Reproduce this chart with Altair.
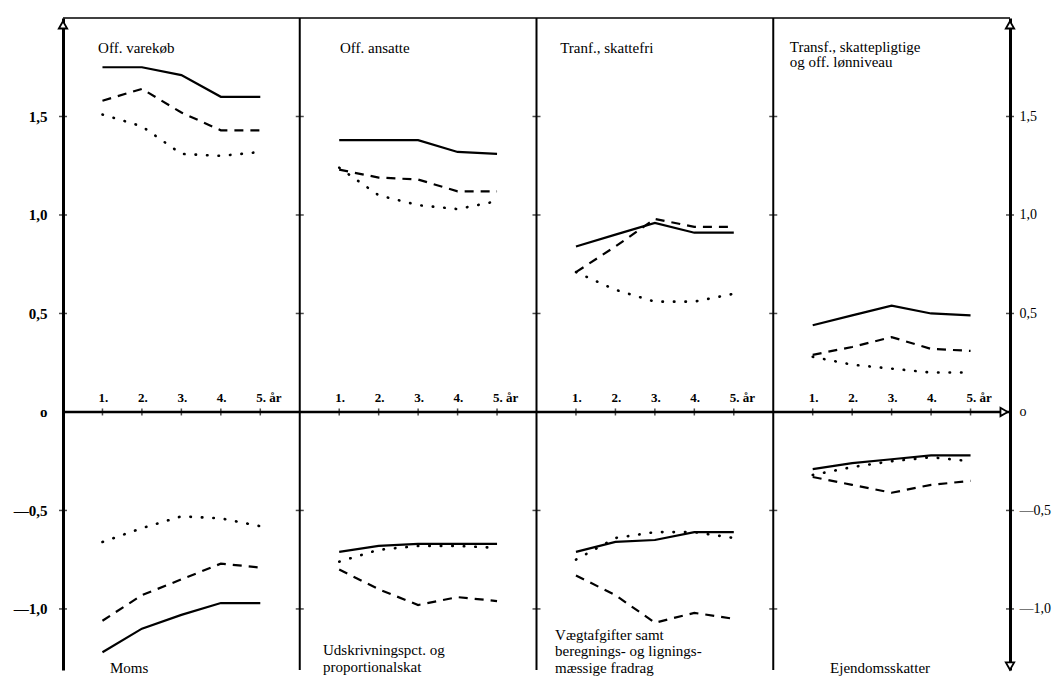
import altair as alt
import pandas as pd

FONT = "Liberation Serif"

years = [1, 2, 3, 4, 5]

# Top row (positive effects)
varekob_solid = [1.75, 1.75, 1.71, 1.60, 1.60]
varekob_dashed = [1.58, 1.64, 1.52, 1.43, 1.43]
varekob_dotted = [1.51, 1.45, 1.31, 1.30, 1.32]
ansatte_solid = [1.38, 1.38, 1.38, 1.32, 1.31]
ansatte_dashed = [1.23, 1.19, 1.18, 1.12, 1.12]
ansatte_dotted = [1.24, 1.10, 1.05, 1.03, 1.07]
skattefri_solid = [0.84, 0.90, 0.96, 0.91, 0.91]
skattefri_dashed = [0.71, 0.84, 0.98, 0.94, 0.94]
skattefri_dotted = [0.71, 0.62, 0.56, 0.56, 0.60]
skattepl_solid = [0.44, 0.49, 0.54, 0.50, 0.49]
skattepl_dashed = [0.29, 0.33, 0.38, 0.32, 0.31]
skattepl_dotted = [0.28, 0.24, 0.22, 0.20, 0.20]

# Bottom row (negative effects)
moms_solid = [-1.22, -1.10, -1.03, -0.97, -0.97]
moms_dashed = [-1.06, -0.93, -0.85, -0.77, -0.79]
moms_dotted = [-0.66, -0.59, -0.53, -0.54, -0.58]
udskr_solid = [-0.71, -0.68, -0.67, -0.67, -0.67]
udskr_dashed = [-0.80, -0.90, -0.98, -0.94, -0.96]
udskr_dotted = [-0.76, -0.70, -0.68, -0.68, -0.69]
vaegt_solid = [-0.71, -0.66, -0.65, -0.61, -0.61]
vaegt_dashed = [-0.83, -0.93, -1.07, -1.02, -1.05]
vaegt_dotted = [-0.75, -0.64, -0.61, -0.61, -0.64]
ejendom_solid = [-0.29, -0.26, -0.24, -0.22, -0.22]
ejendom_dashed = [-0.33, -0.37, -0.41, -0.37, -0.35]
ejendom_dotted = [-0.32, -0.28, -0.25, -0.23, -0.25]

# Axis ticks / labels
tick_values = [-1.0, -0.5, 0.0, 0.5, 1.0, 1.5]
year_labels = ["1.", "2.", "3.", "4.", "5. år"]

# Panel titles
top_titles = ["Off. varekøb", "Off. ansatte", "Tranf., skattefri",
              "Transf., skattepligtige", "og off. lønniveau"]
bottom_titles = ["Moms", "Udskrivningspct. og", "proportionalskat",
                 "Vægtafgifter samt", "beregnings- og lignings-",
                 "mæssige fradrag", "Ejendomsskatter"]

COLW = 6  # each column spans 6 x-units, years 1..5 inside
ymin, ymax = -1.31, 2.0
xscale = alt.Scale(domain=[0, 4 * COLW], nice=False, zero=False)
yscale = alt.Scale(domain=[ymin, ymax], nice=False, zero=False)

panels = [
    (0, "top", varekob_solid, varekob_dashed, varekob_dotted),
    (1, "top", ansatte_solid, ansatte_dashed, ansatte_dotted),
    (2, "top", skattefri_solid, skattefri_dashed, skattefri_dotted),
    (3, "top", skattepl_solid, skattepl_dashed, skattepl_dotted),
    (0, "bot", moms_solid, moms_dashed, moms_dotted),
    (1, "bot", udskr_solid, udskr_dashed, udskr_dotted),
    (2, "bot", vaegt_solid, vaegt_dashed, vaegt_dotted),
    (3, "bot", ejendom_solid, ejendom_dashed, ejendom_dotted),
]
rows = []
for col, row, s, d, p in panels:
    for style, vals in (("solid", s), ("dashed", d), ("dotted", p)):
        for yr, v in zip(years, vals):
            rows.append({"x": col * COLW + yr, "y": v,
                         "panel": f"{row}{col}", "style": style})
df = pd.DataFrame(rows)

X = alt.X("x:Q", scale=xscale, axis=None)
Y = alt.Y("y:Q", scale=yscale, axis=None)

solid = alt.Chart(df[df["style"] == "solid"]).mark_line(
    color="black", strokeWidth=2.2).encode(x=X, y=Y, detail="panel:N")
dashed = alt.Chart(df[df["style"] == "dashed"]).mark_line(
    color="black", strokeWidth=2.2, strokeDash=[9, 7]).encode(x=X, y=Y, detail="panel:N")
dotted = alt.Chart(df[df["style"] == "dotted"]).mark_line(
    color="black", strokeWidth=2.6, strokeDash=[0.5, 11], strokeCap="round").encode(
    x=X, y=Y, detail="panel:N")

# frame lines
div_df = pd.DataFrame({"x": [COLW, 2 * COLW, 3 * COLW], "y": [ymin] * 3, "y2": [ymax] * 3})
dividers = alt.Chart(div_df).mark_rule(color="black", strokeWidth=2).encode(
    x=X, y=Y, y2="y2:Q")
hl_df = pd.DataFrame({"x": [0, 0], "x2": [4 * COLW, 4 * COLW], "y": [0.0, ymax],
                      "w": ["zero", "top"]})
zero_line = alt.Chart(hl_df[hl_df["w"] == "zero"]).mark_rule(color="black", strokeWidth=2.6).encode(
    x=X, x2="x2:Q", y=Y)
top_line = alt.Chart(hl_df[hl_df["w"] == "top"]).mark_rule(color="black", strokeWidth=1.5).encode(
    x=X, x2="x2:Q", y=Y)

# cross ticks on vertical lines
cross_rows = [{"x": c * COLW, "y": v} for c in range(5) for v in tick_values if v != 0]
cross_df = pd.DataFrame(cross_rows)
label_expr = ("datum.value == 0 ? 'o' : (datum.value < 0 ? '—' : '') + "
              "replace(format(abs(datum.value), '.1f'), '.', ',')")
axis_common = dict(values=tick_values, labelExpr=label_expr, title=None, grid=False,
                   domainColor="black", domainWidth=3, ticks=False,
                   labelFont=FONT, labelColor="black")
left_axis = alt.Chart(cross_df).mark_tick(
    orient="horizontal", size=8, thickness=1.5, color="black").encode(
    x=X, y=alt.Y("y:Q", scale=yscale,
                  axis=alt.Axis(orient="left", labelPadding=16, labelFontSize=15,
                                labelFontWeight="bold", **axis_common)))
right_axis = alt.Chart(cross_df).mark_tick(
    orient="horizontal", size=8, thickness=1.5, color="black", opacity=0).encode(
    x=X, y=alt.Y("y:Q", scale=yscale,
                  axis=alt.Axis(orient="right", labelPadding=9, labelFontSize=14,
                                labelFontWeight="normal", **axis_common)))

# year ticks on zero line and labels
yt_df = pd.DataFrame([{"x": c * COLW + yr, "y": 0.0,
                       "label": year_labels[i]}
                      for c in range(4) for i, yr in enumerate(years)])
year_ticks = alt.Chart(yt_df).mark_tick(
    orient="vertical", size=7, thickness=1.5, color="black").encode(x=X, y=Y)
year_text = alt.Chart(yt_df).mark_text(
    font=FONT, fontSize=13, fontWeight="bold", align="left", dx=-4, dy=-14,
    baseline="middle", color="black").encode(x=X, y=Y, text="label:N")

# arrows
arr_df = pd.DataFrame({
    "x": [0, 4 * COLW, 4 * COLW - 0.15, 4 * COLW],
    "y": [1.965, 1.965, 0.0, -1.29],
    "shape": ["triangle-up", "triangle-up", "triangle-right", "triangle-down"],
})
arrows = alt.Chart(arr_df).mark_point(
    filled=True, fill="white", stroke="black", strokeWidth=1.8, size=70, opacity=1).encode(
    x=X, y=Y, shape=alt.Shape("shape:N", scale=None))

# panel titles
tt_df = pd.DataFrame({
    "x": [0.89, 7.02, 12.6, 18.42, 18.42],
    "y": [1.85, 1.85, 1.85, 1.855, 1.775],
    "text": top_titles,
})
bt_df = pd.DataFrame({
    "x": [1.19, 6.59, 6.59, 12.47, 12.47, 12.47, 19.44],
    "y": [-1.30, -1.21, -1.295, -1.13, -1.215, -1.30, -1.30],
    "text": bottom_titles,
})
titles_top = alt.Chart(tt_df).mark_text(
    font=FONT, fontSize=15, align="left", baseline="middle", color="black").encode(
    x=X, y=Y, text="text:N")
titles_bot = alt.Chart(bt_df).mark_text(
    font=FONT, fontSize=15, align="left", baseline="middle", color="black").encode(
    x=X, y=Y, text="text:N")

chart = alt.layer(
    left_axis, right_axis, dividers, top_line, zero_line, year_ticks,
    solid, dashed, dotted, arrows, year_text, titles_top, titles_bot
).resolve_axis(y="independent").properties(
    width=947, height=652,
    padding={"left": 55, "top": 10, "right": 43, "bottom": 6},
    autosize=alt.AutoSizeParams(type="none"),
    background="white",
).configure_view(stroke=None)

chart.save("out.html", embed_options={"renderer": "svg", "actions": False})
